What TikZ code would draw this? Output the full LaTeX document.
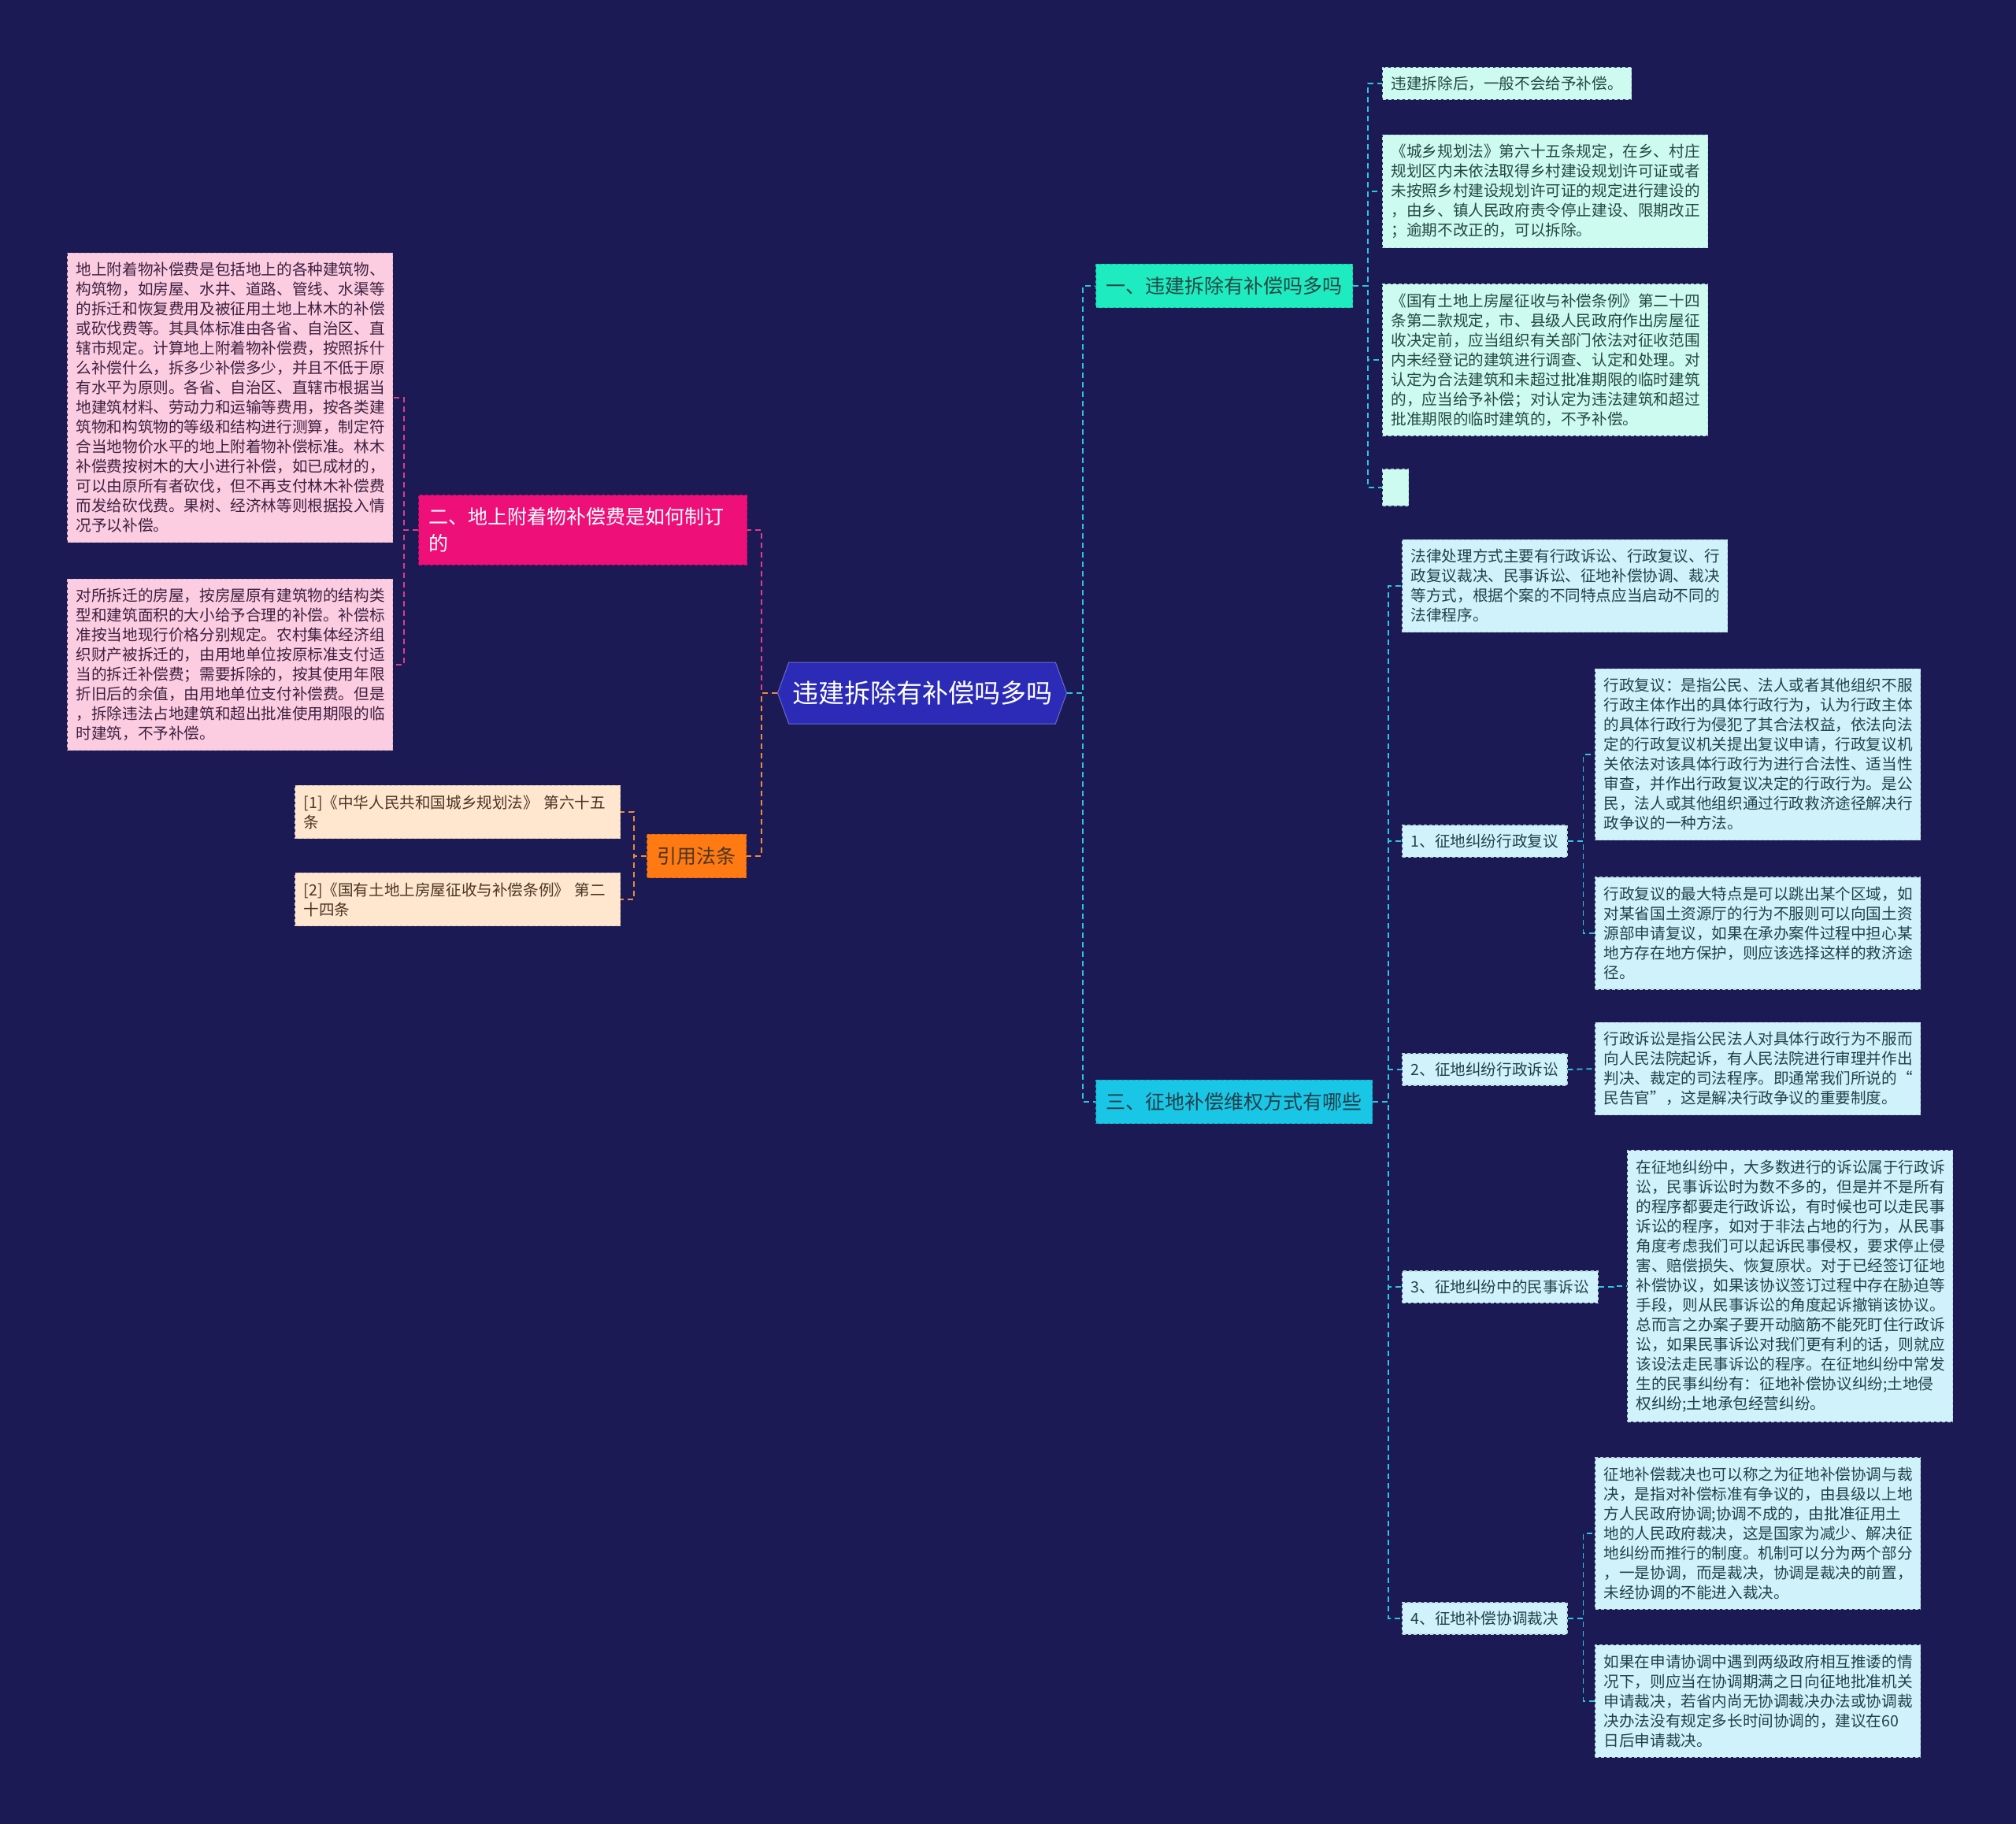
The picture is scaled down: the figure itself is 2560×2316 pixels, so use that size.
\documentclass[tikz,border=0pt]{standalone}
\usepackage{fontspec}
\setmainfont{Noto Sans CJK SC}
\usepackage{xcolor}
\usetikzlibrary{shapes.symbols}

\definecolor{bgnavy}{HTML}{1B1A55}
\definecolor{rootblue}{HTML}{2B2BB8}
\definecolor{cyanline}{HTML}{2EC5DE}
\definecolor{pinkline}{HTML}{E23C87}
\definecolor{orangeline}{HTML}{EE8A3A}
\definecolor{mintfill}{HTML}{1EEBC0}
\definecolor{mintleaf}{HTML}{CEFBF0}
\definecolor{minttext}{HTML}{244844}
\definecolor{cyanfill}{HTML}{1AC6E6}
\definecolor{cyanleaf}{HTML}{D0F3FB}
\definecolor{cyantext}{HTML}{22404A}
\definecolor{pinkfill}{HTML}{EE0F78}
\definecolor{pinkleaf}{HTML}{FCCDE0}
\definecolor{pinktext}{HTML}{3D2040}
\definecolor{orangefill}{HTML}{FF7A12}
\definecolor{peachleaf}{HTML}{FFE6CE}
\definecolor{peachtext}{HTML}{4A3525}

\newcommand\leaffont{\fontsize{19.6}{25}\selectfont}
\newcommand\topicfont{\fontsize{25}{34}\selectfont}
\newcommand\rootfont{\fontsize{33}{40}\selectfont}

\tikzset{
  rootnode/.style={signal, signal to=west and east, signal pointer angle=140,
    fill=rootblue, draw=rootblue!70!white, line width=1pt, text=white,
    font=\rootfont, minimum width=367pt, minimum height=78pt, inner xsep=4pt},
  topic/.style={anchor=west, align=left, inner xsep=13pt, inner ysep=16pt,
    font=\topicfont, dash pattern=on 4pt off 3pt, line width=1.2pt},
  subtopic/.style={anchor=west, align=left, inner xsep=11pt, inner ysep=11pt,
    font=\leaffont, dash pattern=on 4pt off 3pt, line width=1.2pt},
  leafbox/.style={anchor=west, align=left, text width=391pt, inner xsep=11pt,
    inner ysep=12pt, font=\leaffont, dash pattern=on 4pt off 3pt, line width=1.2pt},
  mintstyle/.style={fill=mintleaf, draw=mintleaf!75!gray, text=minttext},
  cyanstyle/.style={fill=cyanleaf, draw=cyanleaf!75!gray, text=cyantext},
  pinkstyle/.style={fill=pinkleaf, draw=pinkleaf!75!gray, text=pinktext},
  peachstyle/.style={fill=peachleaf, draw=peachleaf!75!gray, text=peachtext},
  link/.style={dash pattern=on 7pt off 5pt, line width=1.8pt},
  cyanlink/.style={link, draw=cyanline},
  pinklink/.style={link, draw=pinkline},
  orangelink/.style={link, draw=orangeline}
}

\begin{document}
\begin{tikzpicture}[x=1pt,y=-1pt]
\useasboundingbox (0,0) rectangle (2560,2316);
\fill[bgnavy] (0,0) rectangle (2560,2316);

% centre
\node[rootnode] (root) at (1171,880) {违建拆除有补偿吗多吗};

% branch one
\node[topic, fill=mintfill, draw=mintfill!80!black, text=minttext] (one) at (1391,363) {一、违建拆除有补偿吗多吗};
\node[subtopic, mintstyle] (oneA) at (1755,106) {违建拆除后，一般不会给予补偿。};
\node[leafbox, mintstyle] (oneB) at (1755,243) {《城乡规划法》第六十五条规定，在乡、村庄\\规划区内未依法取得乡村建设规划许可证或者\\未按照乡村建设规划许可证的规定进行建设的\\，由乡、镇人民政府责令停止建设、限期改正\\；逾期不改正的，可以拆除。};
\node[leafbox, mintstyle] (oneC) at (1755,457) {《国有土地上房屋征收与补偿条例》第二十四\\条第二款规定，市、县级人民政府作出房屋征\\收决定前，应当组织有关部门依法对征收范围\\内未经登记的建筑进行调查、认定和处理。对\\认定为合法建筑和未超过批准期限的临时建筑\\的，应当给予补偿；对认定为违法建筑和超过\\批准期限的临时建筑的，不予补偿。};
\node[anchor=west, mintstyle, dash pattern=on 4pt off 3pt, line width=1.2pt, minimum width=33pt, minimum height=46pt, inner sep=0pt] (oneD) at (1755,619) {};

% branch three
\node[topic, fill=cyanfill, draw=cyanfill!80!black, text=cyantext] (three) at (1391,1399) {三、征地补偿维权方式有哪些};
\node[leafbox, cyanstyle] (thrA) at (1780,744) {法律处理方式主要有行政诉讼、行政复议、行\\政复议裁决、民事诉讼、征地补偿协调、裁决\\等方式，根据个案的不同特点应当启动不同的\\法律程序。};
\node[subtopic, cyanstyle] (thrB) at (1780,1068) {1、征地纠纷行政复议};
\node[subtopic, cyanstyle] (thrC) at (1780,1358) {2、征地纠纷行政诉讼};
\node[subtopic, cyanstyle] (thrD) at (1780,1634) {3、征地纠纷中的民事诉讼};
\node[subtopic, cyanstyle] (thrE) at (1780,2055) {4、征地补偿协调裁决};

\node[leafbox, cyanstyle] (bA) at (2025,958) {行政复议：是指公民、法人或者其他组织不服\\行政主体作出的具体行政行为，认为行政主体\\的具体行政行为侵犯了其合法权益，依法向法\\定的行政复议机关提出复议申请，行政复议机\\关依法对该具体行政行为进行合法性、适当性\\审查，并作出行政复议决定的行政行为。是公\\民，法人或其他组织通过行政救济途径解决行\\政争议的一种方法。};
\node[leafbox, cyanstyle] (bB) at (2025,1185) {行政复议的最大特点是可以跳出某个区域，如\\对某省国土资源厅的行为不服则可以向国土资\\源部申请复议，如果在承办案件过程中担心某\\地方存在地方保护，则应该选择这样的救济途\\径。};
\node[leafbox, cyanstyle] (cA) at (2025,1357) {行政诉讼是指公民法人对具体行政行为不服而\\向人民法院起诉，有人民法院进行审理并作出\\判决、裁定的司法程序。即通常我们所说的“\\民告官”，这是解决行政争议的重要制度。};
\node[leafbox, cyanstyle] (dA) at (2066,1633) {在征地纠纷中，大多数进行的诉讼属于行政诉\\讼，民事诉讼时为数不多的，但是并不是所有\\的程序都要走行政诉讼，有时候也可以走民事\\诉讼的程序，如对于非法占地的行为，从民事\\角度考虑我们可以起诉民事侵权，要求停止侵\\害、赔偿损失、恢复原状。对于已经签订征地\\补偿协议，如果该协议签订过程中存在胁迫等\\手段，则从民事诉讼的角度起诉撤销该协议。\\总而言之办案子要开动脑筋不能死盯住行政诉\\讼，如果民事诉讼对我们更有利的话，则就应\\该设法走民事诉讼的程序。在征地纠纷中常发\\生的民事纠纷有：征地补偿协议纠纷;土地侵\\权纠纷;土地承包经营纠纷。};
\node[leafbox, cyanstyle] (eA) at (2025,1947) {征地补偿裁决也可以称之为征地补偿协调与裁\\决，是指对补偿标准有争议的，由县级以上地\\方人民政府协调;协调不成的，由批准征用土\\地的人民政府裁决，这是国家为减少、解决征\\地纠纷而推行的制度。机制可以分为两个部分\\，一是协调，而是裁决，协调是裁决的前置，\\未经协调的不能进入裁决。};
\node[leafbox, cyanstyle] (eB) at (2025,2160) {如果在申请协调中遇到两级政府相互推诿的情\\况下，则应当在协调期满之日向征地批准机关\\申请裁决，若省内尚无协调裁决办法或协调裁\\决办法没有规定多长时间协调的，建议在60\\日后申请裁决。};

% branch two
\node[topic, fill=pinkfill, draw=pinkfill!80!black, text=white, text width=391pt] (two) at (531,673) {二、地上附着物补偿费是如何制订\\的};
\node[leafbox, pinkstyle] (twoA) at (85,505) {地上附着物补偿费是包括地上的各种建筑物、\\构筑物，如房屋、水井、道路、管线、水渠等\\的拆迁和恢复费用及被征用土地上林木的补偿\\或砍伐费等。其具体标准由各省、自治区、直\\辖市规定。计算地上附着物补偿费，按照拆什\\么补偿什么，拆多少补偿多少，并且不低于原\\有水平为原则。各省、自治区、直辖市根据当\\地建筑材料、劳动力和运输等费用，按各类建\\筑物和构筑物的等级和结构进行测算，制定符\\合当地物价水平的地上附着物补偿标准。林木\\补偿费按树木的大小进行补偿，如已成材的，\\可以由原所有者砍伐，但不再支付林木补偿费\\而发给砍伐费。果树、经济林等则根据投入情\\况予以补偿。};
\node[leafbox, pinkstyle] (twoB) at (85,844) {对所拆迁的房屋，按房屋原有建筑物的结构类\\型和建筑面积的大小给予合理的补偿。补偿标\\准按当地现行价格分别规定。农村集体经济组\\织财产被拆迁的，由用地单位按原标准支付适\\当的拆迁补偿费；需要拆除的，按其使用年限\\折旧后的余值，由用地单位支付补偿费。但是\\，拆除违法占地建筑和超出批准使用期限的临\\时建筑，不予补偿。};

% citations
\node[topic, fill=orangefill, draw=orangefill!80!black, text=peachtext] (cite) at (821,1087) {引用法条};
\node[leafbox, peachstyle] (citeA) at (374,1031) {[1]《中华人民共和国城乡规划法》 第六十五\\条};
\node[leafbox, peachstyle] (citeB) at (374,1142) {[2]《国有土地上房屋征收与补偿条例》 第二\\十四条};

% connectors
\draw[cyanlink] (root.east) -- ++(20,0) |- (one.west);
\draw[cyanlink] (root.east) -- ++(20,0) |- (three.west);
\draw[pinklink] (root.west) -- ++(-20,0) |- (two.east);
\draw[orangelink] (root.west) -- ++(-20,0) |- (cite.east);
\foreach \n in {oneA,oneB,oneC,oneD}
  \draw[cyanlink] (one.east) -- ++(19,0) |- (\n.west);
\foreach \n in {thrA,thrB,thrC,thrD,thrE}
  \draw[cyanlink] (three.east) -- ++(20,0) |- (\n.west);
\foreach \n in {bA,bB}
  \draw[cyanlink] (thrB.east) -- ++(20,0) |- (\n.west);
\draw[cyanlink] (thrC.east) -- (cA.west);
\draw[cyanlink] (thrD.east) -- ++(19,0) |- (dA.west);
\foreach \n in {eA,eB}
  \draw[cyanlink] (thrE.east) -- ++(20,0) |- (\n.west);
\foreach \n in {twoA,twoB}
  \draw[pinklink] (two.west) -- ++(-18,0) |- (\n.east);
\foreach \n in {citeA,citeB}
  \draw[orangelink] (cite.west) -- ++(-16,0) |- (\n.east);
\end{tikzpicture}
\end{document}
